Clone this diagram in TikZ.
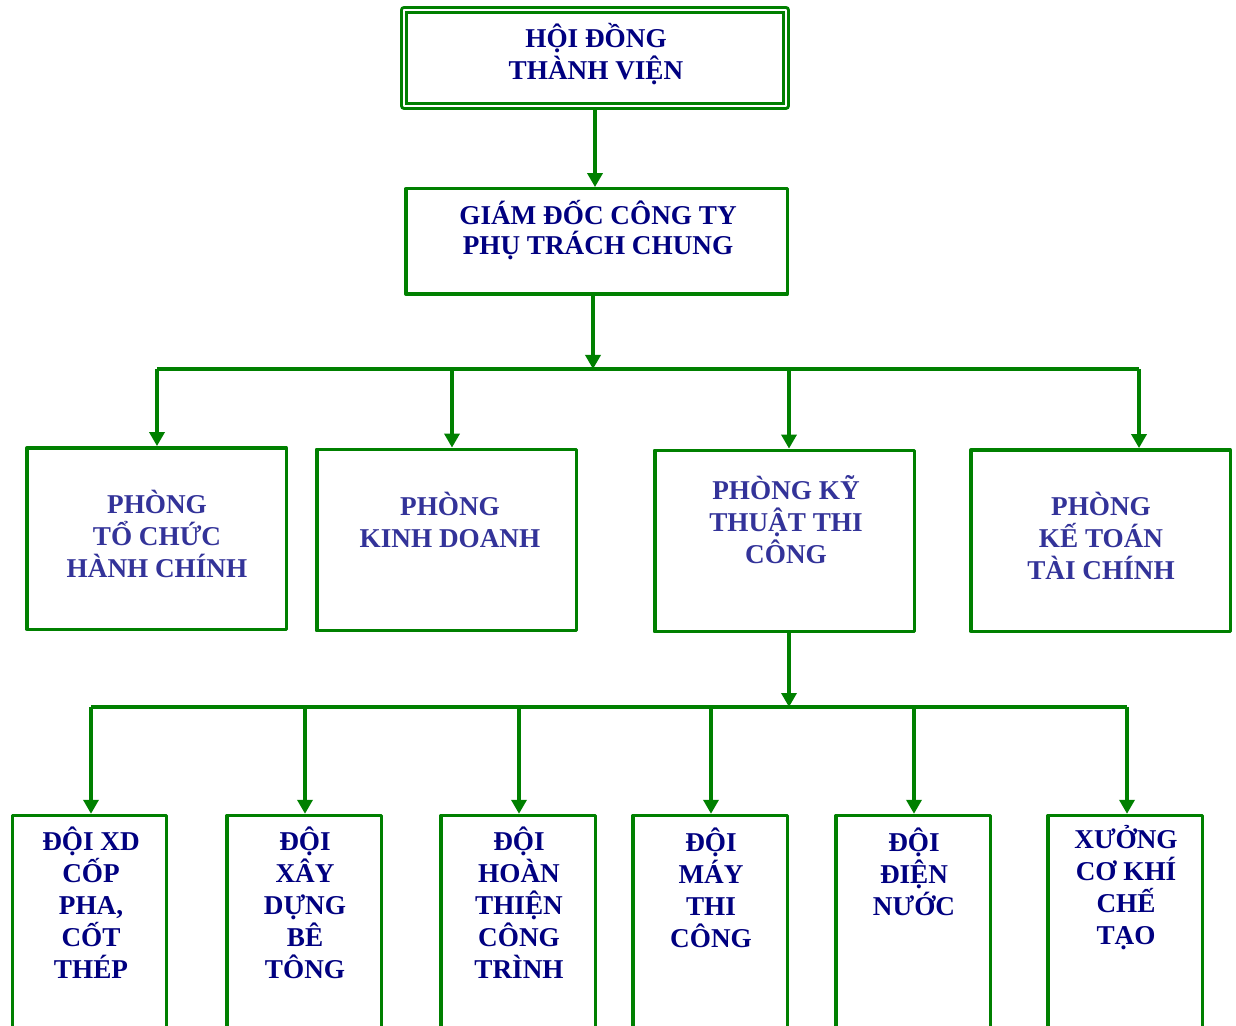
\documentclass[tikz,border=0pt]{standalone}
\usepackage{fontspec}
\setmainfont{Liberation Serif}
\usetikzlibrary{arrows.meta}
\definecolor{xanh}{RGB}{0,128,0}
\definecolor{chudam}{RGB}{0,0,128}
\definecolor{chunhat}{RGB}{51,51,153}
\tikzset{
  hop/.style={draw=xanh,line width=1.7pt,inner sep=0pt},
  chu/.style={font=\bfseries\fontsize{13.6}{16}\selectfont,text=chudam,align=center,inner sep=0pt},
  noi/.style={draw=xanh,line width=1.7pt}
}
\begin{document}
\begin{tikzpicture}[>={Triangle[length=7pt,width=7.5pt]},line join=round,x=0.5pt,y=-0.5pt]
				\clip (0,0) rectangle (1236,1026);
				% hoi dong, giam doc
				\node[hop,double=white,double distance=1.2pt,line width=1.3pt,minimum width=191.2pt,minimum height=48.2pt] (hd) at (595,58) {};
				\node[chu] (hd-chu) at (596,54) {HỘI ĐỒNG\\THÀNH VIỆN};
				\node[hop,minimum width=190.7pt,minimum height=52.7pt] (gd) at (596.5,241.5) {};
				\node[chu,font=\bfseries\fontsize{13.6}{15}\selectfont] (gd-chu) at (598,230) {GIÁM ĐỐC CÔNG TY\\PHỤ TRÁCH CHUNG};
				
				% cac phong
				\foreach \ten/\x/\y/\tx/\ty/\nhan in {b1/156.5/538.5/157/534/{PHÒNG\\TỔ CHỨC\\HÀNH CHÍNH},
				b2/446.5/540/450/520/{PHÒNG\\KINH DOANH},
				b3/784.5/541/786/520/{PHÒNG KỸ\\THUẬT THI\\CÔNG},
				b4/1100.5/540.5/1101/536/{PHÒNG\\KẾ TOÁN\\TÀI CHÍNH}}
				{
				\node[hop,minimum width=129.7pt,minimum height=90.7pt] (\ten) at (\x,\y) {};
				\node[chu,text=chunhat] (\ten-chu) at (\tx,\ty) {\nhan};
				}
				
				% cac doi
				\foreach \ten/\x/\tx/\ty/\nhan in {c1/89.5/91/903/{ĐỘI XD\\CỐP\\PHA,\\CỐT\\THÉP},
				c2/304/305/903/{ĐỘI\\XÂY\\DỰNG\\BÊ\\TÔNG},
				c3/518/519/903/{ĐỘI\\HOÀN\\THIỆN\\CÔNG\\TRÌNH},
				c4/710/711/887.5/{ĐỘI\\MÁY\\THI\\CÔNG},
				c5/913/914/872/{ĐỘI\\ĐIỆN\\NƯỚC},
				c6/1125/1126/887.5/{XƯỞNG\\CƠ KHÍ\\CHẾ\\TẠO}}
				{
				\node[hop,minimum width=77.2pt,minimum height=125pt] (\ten) at (\x,940.5) {};
				\node[chu] (\ten-chu) at (\tx,\ty) {\nhan};
				}
				
				\path (157,369) coordinate (j1)
				(452,369) coordinate (j2)
				(789,369) coordinate (j3)
				(1139,369) coordinate (j4)
				(593,369) coordinate (j0)
				(789,707) coordinate (k0)
				;
				\foreach \i/\x in {1/91,2/305,3/519,4/711,5/914,6/1127}
				\path (\x,707) coordinate (k\i);
				
				\draw[noi,->] (hd.south) -- (hd.south |- gd.north);
				\draw[noi,->] (j0 |- gd.south) -- (j0);
				\draw[noi] (j1)--(j4);
				\foreach \i in {1,2,3,4}
				\draw[noi,->] (j\i) -- (j\i |- b\i.north);
				\draw[noi,->] (k0 |- b3.south) -- (k0);
				\draw[noi] (k1)--(k6);
				\foreach \i in {1,...,6}
				\draw[noi,->] (k\i) -- (k\i |- c\i.north);
			\end{tikzpicture}
\end{document}
